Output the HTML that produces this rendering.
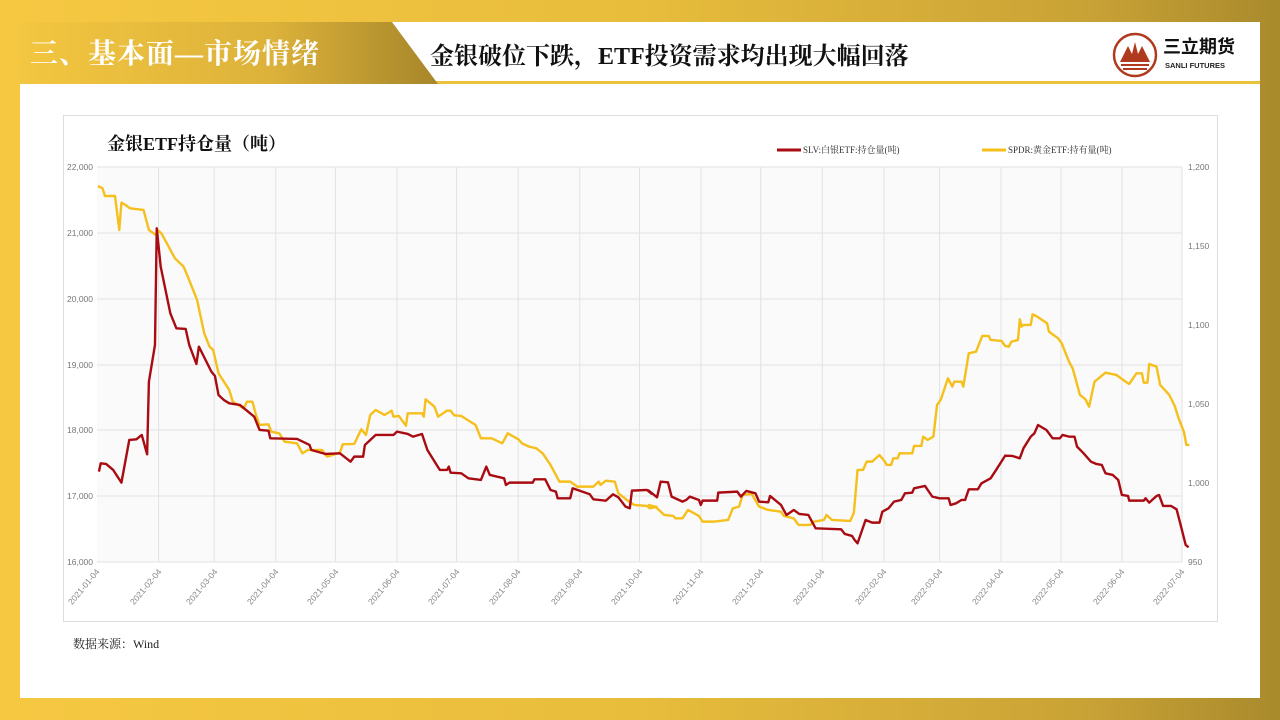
<!DOCTYPE html>
<html><head><meta charset="utf-8"><style>
*{margin:0;padding:0;box-sizing:border-box}
body{width:1280px;height:720px;overflow:hidden;background:linear-gradient(90deg,#f6c842 0%,#e8bd3c 50%,#c9a236 85%,#a98a2c 100%);font-family:"Liberation Serif","Noto Serif CJK SC",serif;position:relative}
.card{position:absolute;left:20px;top:22px;width:1240px;height:676px;background:#fff}
.hd{position:absolute;left:20px;top:22px;width:1240px;height:62px;background:#fff;border-bottom:3px solid #e9c13c}
.gold{position:absolute;left:20px;top:22px;width:418px;height:62px;background:linear-gradient(90deg,#f3c640 0%,#dcb23a 60%,#a7862a 100%);clip-path:polygon(0 0,372px 0,418px 62px,0 62px)}
.t1{position:absolute;left:30px;top:32px;font-size:28px;font-weight:bold;color:#fff;font-family:"Liberation Serif","Noto Serif CJK SC",serif;letter-spacing:1px}
.t2{position:absolute;left:430px;top:36px;font-size:24px;font-weight:bold;color:#111}
.logo{position:absolute;left:1163px;top:33px;font-size:18px;font-weight:bold;color:#111;font-family:"Liberation Sans","Noto Sans CJK SC",sans-serif}
.logo2{position:absolute;left:1165px;top:61px;font-size:7.5px;font-weight:bold;color:#222;font-family:"Liberation Sans",sans-serif}
.box{position:absolute;left:63px;top:115px;width:1155px;height:507px;border:1px solid #ddd}
.src{position:absolute;left:73px;top:635px;font-size:12px;color:#222}
</style></head><body>
<div class="card"></div>
<div class="hd"></div>
<div class="gold"></div>
<div class="t1">三、基本面—市场情绪</div>
<div class="t2">金银破位下跌，ETF投资需求均出现大幅回落</div>
<svg style="position:absolute;left:1112px;top:32px" width="46" height="46" viewBox="0 0 46 46">
<circle cx="23" cy="23" r="21" fill="none" stroke="#b03a1e" stroke-width="2.5"/>
<path d="M8 30 L16 14 L20 22 L23 10 L26 22 L30 14 L38 30 Z" fill="#b03a1e"/>
<rect x="9" y="32" width="28" height="2" fill="#b03a1e"/><rect x="11" y="36" width="24" height="2" fill="#b03a1e"/>
</svg>
<div class="logo">三立期货</div>
<div class="logo2">SANLI FUTURES</div>
<div class="box"></div>
<div class="src">数据来源：Wind</div>
<svg style="position:absolute;left:0;top:0" width="1280" height="720" font-family="Liberation Sans, sans-serif">
<rect x="97" y="167" width="1085" height="395" fill="#fafafa"/>
<g stroke="#e2e2e2" stroke-width="1">
<line x1="97" x2="1182" y1="167" y2="167"/><line x1="97" x2="1182" y1="233" y2="233"/><line x1="97" x2="1182" y1="299" y2="299"/><line x1="97" x2="1182" y1="365" y2="365"/><line x1="97" x2="1182" y1="430" y2="430"/><line x1="97" x2="1182" y1="496" y2="496"/><line x1="97" x2="1182" y1="562" y2="562"/>
<line x1="158.6" x2="158.6" y1="167" y2="562"/><line x1="214.2" x2="214.2" y1="167" y2="562"/><line x1="275.8" x2="275.8" y1="167" y2="562"/><line x1="335.4" x2="335.4" y1="167" y2="562"/><line x1="397" x2="397" y1="167" y2="562"/><line x1="456.6" x2="456.6" y1="167" y2="562"/><line x1="518.2" x2="518.2" y1="167" y2="562"/><line x1="579.8" x2="579.8" y1="167" y2="562"/><line x1="639.5" x2="639.5" y1="167" y2="562"/><line x1="701" x2="701" y1="167" y2="562"/><line x1="760.7" x2="760.7" y1="167" y2="562"/><line x1="822.3" x2="822.3" y1="167" y2="562"/><line x1="884" x2="884" y1="167" y2="562"/><line x1="939.6" x2="939.6" y1="167" y2="562"/><line x1="1001" x2="1001" y1="167" y2="562"/><line x1="1061" x2="1061" y1="167" y2="562"/><line x1="1122" x2="1122" y1="167" y2="562"/><line x1="1182" x2="1182" y1="167" y2="562"/>
</g>
<g font-size="8.5" fill="#777" text-anchor="end">
<text x="93" y="170">22,000</text><text x="93" y="236">21,000</text><text x="93" y="302">20,000</text><text x="93" y="368">19,000</text><text x="93" y="433">18,000</text><text x="93" y="499">17,000</text><text x="93" y="565">16,000</text>
</g>
<g font-size="8.5" fill="#777">
<text x="1188" y="170">1,200</text><text x="1188" y="249">1,150</text><text x="1188" y="328">1,100</text><text x="1188" y="407">1,050</text><text x="1188" y="486">1,000</text><text x="1188" y="565">950</text>
</g>
<g font-size="8.5" fill="#888" text-anchor="end">
<text transform="translate(100,572) rotate(-50)">2021-01-04</text>
<text transform="translate(162,572) rotate(-50)">2021-02-04</text>
<text transform="translate(218,572) rotate(-50)">2021-03-04</text>
<text transform="translate(279,572) rotate(-50)">2021-04-04</text>
<text transform="translate(339,572) rotate(-50)">2021-05-04</text>
<text transform="translate(400,572) rotate(-50)">2021-06-04</text>
<text transform="translate(460,572) rotate(-50)">2021-07-04</text>
<text transform="translate(521,572) rotate(-50)">2021-08-04</text>
<text transform="translate(583,572) rotate(-50)">2021-09-04</text>
<text transform="translate(643,572) rotate(-50)">2021-10-04</text>
<text transform="translate(704,572) rotate(-50)">2021-11-04</text>
<text transform="translate(764,572) rotate(-50)">2021-12-04</text>
<text transform="translate(825,572) rotate(-50)">2022-01-04</text>
<text transform="translate(887,572) rotate(-50)">2022-02-04</text>
<text transform="translate(943,572) rotate(-50)">2022-03-04</text>
<text transform="translate(1004,572) rotate(-50)">2022-04-04</text>
<text transform="translate(1064,572) rotate(-50)">2022-05-04</text>
<text transform="translate(1125,572) rotate(-50)">2022-06-04</text>
<text transform="translate(1185,572) rotate(-50)">2022-07-04</text>
</g>
<text x="107" y="150" font-size="18" font-weight="bold" fill="#111" font-family="Liberation Serif, Noto Serif CJK SC, serif">金银ETF持仓量（吨）</text>
<line x1="777" x2="801" y1="150" y2="150" stroke="#a80c12" stroke-width="3"/>
<text x="803" y="153" font-size="9" fill="#333" font-family="Liberation Serif, Noto Serif CJK SC, serif">SLV:白银ETF:持仓量(吨)</text>
<line x1="982" x2="1006" y1="150" y2="150" stroke="#f5bf1c" stroke-width="3"/>
<text x="1008" y="153" font-size="9" fill="#333" font-family="Liberation Serif, Noto Serif CJK SC, serif">SPDR:黄金ETF:持有量(吨)</text>
<g fill="none" stroke-width="2.4" stroke-linejoin="round">
<g transform="translate(90,160) scale(0.357,0.3333)">
<polyline vector-effect="non-scaling-stroke" stroke="#f5bf1c" points="22,78 35,85 42,108 70,108 82,210 88,128 100,135 112,145 150,150 165,210 185,225 192,212 200,220 238,295 262,320 272,345 300,420 320,520 335,560 345,570 360,640 390,690 400,725 430,745 440,725 455,725 465,765 475,795 500,793 508,815 530,820 545,845 580,850 595,880 610,870 650,870 660,885 665,890 700,878 708,853 740,852 760,808 773,825 785,765 800,750 825,765 845,752 850,770 865,768 885,797 890,760 930,760 935,770 940,718 965,740 975,770 1000,752 1010,752 1020,766 1040,768 1080,795 1095,835 1125,835 1155,850 1170,820 1200,838 1210,850 1230,860 1250,865 1268,880 1290,915 1315,965 1345,965 1365,980 1410,980 1425,965 1430,975 1445,962 1470,965 1480,1000 1510,1025 1525,1035 1560,1038 1568,1045 1590,1040"/>
<polyline vector-effect="non-scaling-stroke" stroke="#a80c12" points="25,935 30,910 45,912 65,930 88,968 110,840 130,838 145,825 160,883 165,665 182,555 187,205 198,320 225,460 242,505 268,507 278,555 298,612 305,560 340,635 350,648 360,705 375,720 390,730 420,735 460,770 475,810 500,812 505,835 580,837 615,855 620,870 660,882 700,880 730,905 740,890 765,890 770,855 800,825 850,825 860,815 890,822 905,830 930,822 945,870 980,930 1000,930 1005,920 1010,938 1040,940 1060,955 1095,960 1110,920 1120,945 1160,955 1165,975 1175,968 1240,968 1245,958 1275,958 1290,990 1305,995 1310,1015 1345,1015 1352,985 1400,1003 1410,1018 1445,1022 1465,1003 1480,1012 1500,1040 1512,1045 1518,992 1560,990 1575,1003"/>
</g>
<g transform="translate(631.5,160) scale(0.3646,0.3333)">
<polyline vector-effect="non-scaling-stroke" stroke="#f5bf1c" points="45,1035 65,1040 90,1065 115,1068 120,1075 140,1075 155,1050 185,1068 195,1085 225,1085 265,1080 278,1045 295,1040 305,1005 330,1002 350,1040 375,1050 410,1055 418,1068 445,1075 458,1095 490,1095 500,1085 528,1080 535,1065 550,1080 600,1083 610,1058 620,930 635,930 645,905 660,905 680,885 695,905 700,915 712,915 718,895 730,895 735,880 770,880 775,858 795,858 800,830 812,840 828,830 838,735 848,720 868,655 880,680 885,665 905,665 910,680 925,580 945,575 962,528 980,528 985,540 1015,543 1025,558 1035,560 1042,545 1060,540 1065,478 1070,500 1075,495 1095,495 1100,463 1110,468 1140,490 1145,515 1170,535 1180,550 1200,605 1210,625 1230,705 1245,718 1255,740 1270,665 1300,638 1330,645 1355,665 1365,672 1385,640 1400,640 1405,668 1415,668 1420,612 1440,620 1450,675 1475,705 1490,738 1500,773 1515,815 1522,855 1530,855"/>
<polyline vector-effect="non-scaling-stroke" stroke="#a80c12" points="45,990 70,1012 80,965 100,967 110,1010 140,1025 150,1020 160,1010 185,1020 190,1035 195,1022 235,1022 238,998 290,995 300,1010 315,993 340,1000 350,1025 375,1027 380,1008 410,1035 425,1065 445,1050 460,1062 485,1065 505,1105 575,1108 585,1122 605,1128 612,1140 620,1150 642,1080 660,1088 680,1088 688,1055 705,1045 720,1025 740,1020 750,1000 770,998 775,985 805,978 825,1010 845,1015 870,1015 875,1035 890,1030 905,1020 915,1020 925,988 950,988 960,970 985,955 1000,930 1025,887 1045,888 1065,895 1075,865 1095,830 1105,820 1115,795 1138,810 1155,835 1175,835 1182,825 1200,830 1215,830 1222,860 1240,880 1260,905 1275,912 1290,915 1300,940 1320,945 1335,960 1345,1005 1362,1008 1365,1022 1405,1022 1410,1015 1420,1028 1440,1008 1447,1005 1458,1038 1480,1038 1495,1048 1505,1090 1520,1155 1528,1162"/>
</g>
</g>
</svg>
</body></html>
